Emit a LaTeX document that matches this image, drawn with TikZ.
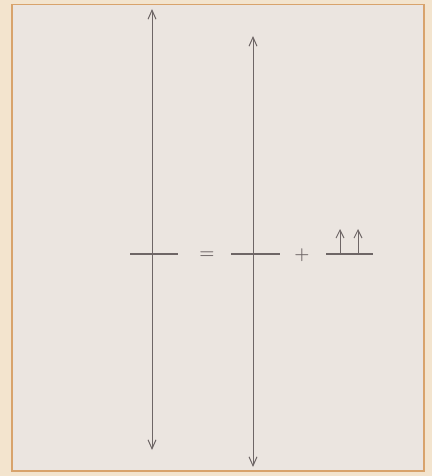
\documentclass[tikz,border=0pt]{standalone}
\usetikzlibrary{arrows.meta}
\definecolor{cpage}{HTML}{F3E4CE}
\definecolor{cpanel}{HTML}{EBE5E0}
\definecolor{cframe}{HTML}{D8A36C}
\definecolor{cline}{HTML}{6E6666}
\tikzset{
  every picture/.style={line width=1pt},
  axisboth/.style={draw=cline, {Straight Barb[length=9pt, width=8pt]}-{Straight Barb[length=9pt, width=8pt]}},
  bar/.style={draw=cline, line width=1.1pt},
  spin/.style={draw=cline, -{Straight Barb[length=8pt, width=8pt]}},
  sign/.style={text=cline, font=\LARGE\boldmath, inner sep=0pt},
}

\begin{document}
\begin{tikzpicture}[x=1pt, y=-1pt]
  \fill[cpage] (0,0) rectangle (432,476);
  \useasboundingbox (0,0) rectangle (432,476);
  \draw[cframe, fill=cpanel, line width=1.5pt] (12,4.5) rectangle (424,471);
  % left: full level
  \coordinate (la) at (152,9);
  \coordinate (lb) at (152,450);
  \draw[axisboth] (lb) -- (la);
  \draw[bar] (130,254) -- (178,254);
  \node[sign] (eq) at (207,255) {$=$};
  % middle: shifted level
  \coordinate (ma) at (253,36);
  \coordinate (mb) at (253,467);
  \draw[axisboth] (mb) -- (ma);
  \draw[bar] (231,254) -- (280,254);
  \node[sign] (plus) at (302,255) {$+$};
  % right: two spins on the level
  \coordinate (ra) at (326,254);
  \coordinate (rb) at (373,254);
  \draw[bar] (ra) -- (rb);
  \foreach \x in {340,358} \draw[spin] (\x,254) -- (\x,229);
\end{tikzpicture}
\end{document}
